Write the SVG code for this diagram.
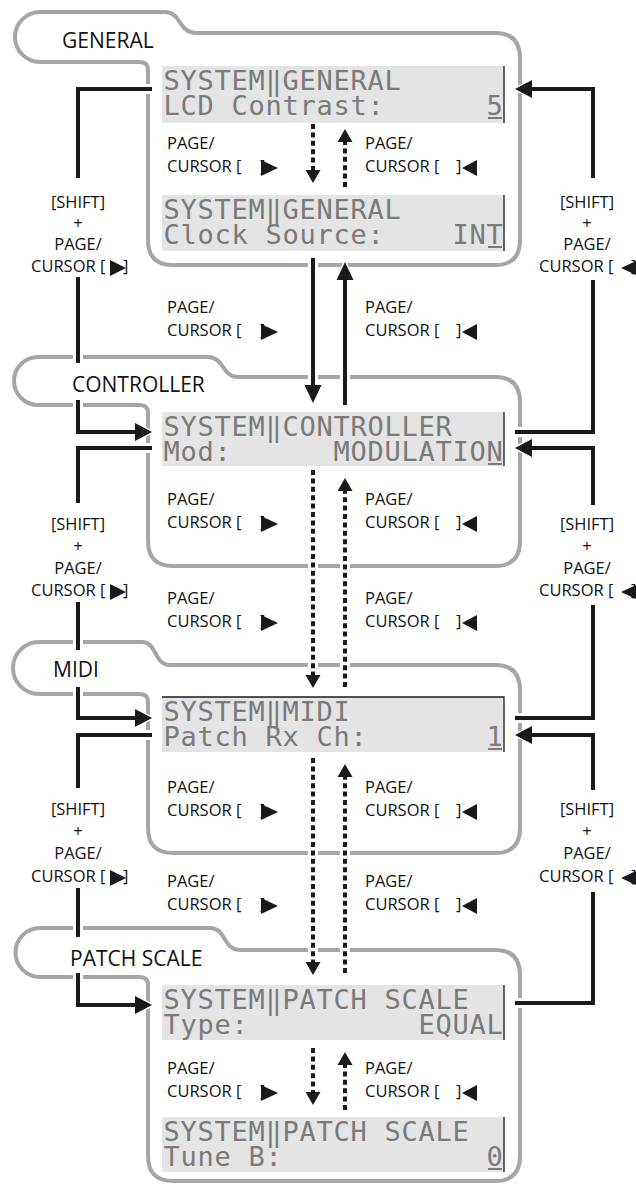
<svg xmlns="http://www.w3.org/2000/svg" xmlns:xlink="http://www.w3.org/1999/xlink" width="636" height="1186" viewBox="0 0 636 1186">
<style>
.pn{fill:none;stroke:#a6a6a6;stroke-width:4}
.lcd{fill:#e4e4e4}
.bd{stroke:#1a1a1a;stroke-width:1.3;fill:none}
.lt{font-family:"DejaVu Sans Mono",monospace;font-size:27px;letter-spacing:0.75px;fill:#7a7a7a;white-space:pre}
.cur{fill:#7a7a7a}
.tab{font-family:"Open Sans",sans-serif;font-size:21px;fill:#111}
.lb{font-family:"Open Sans",sans-serif;font-size:16.5px;fill:#111}
.halo{fill:none;stroke:#fff;stroke-width:10}
.ln{fill:none;stroke:#1a1a1a;stroke-width:4}
.dt{stroke-dasharray:5 3.4}
.ah{fill:#1a1a1a;stroke:#fff;stroke-width:3;paint-order:stroke}
.tri{fill:#1a1a1a}
</style>
<defs>
<path id="L1a" d="M152,89 H78 V178"/>
<path id="L1b" d="M78,277 V363"/>
<path id="L1c" d="M78,400 V432 H137"/>
<path id="L2a" d="M152,448 H78 V503"/>
<path id="L2b" d="M78,602 V650"/>
<path id="L2c" d="M78,687 V718 H137"/>
<path id="L3a" d="M152,735 H78 V788"/>
<path id="L3b" d="M78,888 V937"/>
<path id="L3c" d="M78,973 V1005 H137"/>
<path id="R1a" d="M530,89 H593 V178"/>
<path id="R1b" d="M593,280 V432 H515"/>
<path id="R2a" d="M530,448 H593 V505"/>
<path id="R2b" d="M593,605 V718 H515"/>
<path id="R3a" d="M530,735 H593 V790"/>
<path id="R3b" d="M593,892 V1003 H515"/>
<path id="S1" d="M313,258 V387"/>
<path id="S2" d="M345,405 V278"/>
<path id="D1" d="M313,124 V172"/>
<path id="D2" d="M345,187 V140"/>
<path id="D3" d="M313,470 V677"/>
<path id="D4" d="M345,687 V489"/>
<path id="D5" d="M313,758 V964"/>
<path id="D6" d="M345,973 V776"/>
<path id="D7" d="M313,1048 V1094"/>
<path id="D8" d="M345,1110 V1064"/>
</defs>

<g id="general">
<path class="pn" d="M40,12 L165,12 C181,12 179,33 196,33 L495,33 Q520,33 520,58 L520,240 Q520,265 495,265 L173,265 Q148,265 148,240 L148,70 Q148,62 140,62 L40,62 A25 25 0 0 1 40,12 Z"/>
<text class="tab" x="62" y="48">GENERAL</text>
<rect class="lcd" x="162" y="66" width="342" height="57"/>
<line class="bd" x1="504" y1="66" x2="504" y2="123"/>
<text class="lt" x="163.5" y="90" xml:space="preserve">SYSTEM‖GENERAL</text>
<text class="lt" x="163.5" y="115" xml:space="preserve">LCD Contrast:      5</text>
<rect class="cur" x="488" y="117" width="14" height="2"/>
<rect class="lcd" x="162" y="195" width="342" height="56"/>
<line class="bd" x1="504" y1="195" x2="504" y2="251"/>
<text class="lt" x="163.5" y="219" xml:space="preserve">SYSTEM‖GENERAL</text>
<text class="lt" x="163.5" y="244" xml:space="preserve">Clock Source:    INT</text>
<rect class="cur" x="488" y="246" width="14" height="2"/>
</g>

<g id="controller">
<path class="pn" d="M38,357 L208,357 C224,357 222,377 238,377 L495,377 Q520,377 520,402 L520,541 Q520,566 495,566 L173,566 Q148,566 148,541 L148,413 Q148,405 140,405 L38,405 A24 24 0 0 1 38,357 Z"/>
<text class="tab" x="72" y="392">CONTROLLER</text>
<rect class="lcd" x="162" y="412" width="342" height="54"/>
<line class="bd" x1="504" y1="412" x2="504" y2="466"/>
<text class="lt" x="163.5" y="436" xml:space="preserve">SYSTEM‖CONTROLLER</text>
<text class="lt" x="163.5" y="461" xml:space="preserve">Mod:      MODULATION</text>
<rect class="cur" x="488" y="463" width="14" height="2"/>
</g>

<g id="midi">
<path class="pn" d="M39,642 L142,642 C157,642 154,665 170,665 L495,665 Q520,665 520,690 L520,828 Q520,853 495,853 L173,853 Q148,853 148,828 L148,702 Q148,694 140,694 L39,694 A26 26 0 0 1 39,642 Z"/>
<text class="tab" x="53" y="677">MIDI</text>
<rect class="lcd" x="162" y="697" width="342" height="55"/>
<path class="bd" d="M162,697 H504 V752"/>
<text class="lt" x="163.5" y="721" xml:space="preserve">SYSTEM‖MIDI</text>
<text class="lt" x="163.5" y="746" xml:space="preserve">Patch Rx Ch:       1</text>
<rect class="cur" x="488" y="748" width="14" height="2"/>
</g>

<g id="patch-scale">
<path class="pn" d="M40,928 L210,928 C226,928 223,950 240,950 L495,950 Q520,950 520,975 L520,1156 Q520,1181 495,1181 L173,1181 Q148,1181 148,1156 L148,985 Q148,977 140,977 L40,977 A24.5 24.5 0 0 1 40,928 Z"/>
<text class="tab" x="70" y="966">PATCH SCALE</text>
<rect class="lcd" x="162" y="985" width="342" height="55"/>
<line class="bd" x1="504" y1="985" x2="504" y2="1040"/>
<text class="lt" x="163.5" y="1009" xml:space="preserve">SYSTEM‖PATCH SCALE</text>
<text class="lt" x="163.5" y="1034" xml:space="preserve">Type:          EQUAL</text>
<rect class="lcd" x="162" y="1117" width="342" height="55"/>
<line class="bd" x1="504" y1="1117" x2="504" y2="1172"/>
<text class="lt" x="163.5" y="1141" xml:space="preserve">SYSTEM‖PATCH SCALE</text>
<text class="lt" x="163.5" y="1166" xml:space="preserve">Tune B:            0</text>
<rect class="cur" x="488" y="1168" width="14" height="2"/>
</g>

<g id="connectors">
<g class="halo">
<use xlink:href="#L1a"/><use xlink:href="#L1b"/><use xlink:href="#L1c"/>
<use xlink:href="#L2a"/><use xlink:href="#L2b"/><use xlink:href="#L2c"/>
<use xlink:href="#L3a"/><use xlink:href="#L3b"/><use xlink:href="#L3c"/>
<use xlink:href="#R1a"/><use xlink:href="#R1b"/>
<use xlink:href="#R2a"/><use xlink:href="#R2b"/>
<use xlink:href="#R3a"/><use xlink:href="#R3b"/>
<use xlink:href="#S1"/><use xlink:href="#S2"/>
<use xlink:href="#D1"/><use xlink:href="#D2"/><use xlink:href="#D3"/><use xlink:href="#D4"/>
<use xlink:href="#D5"/><use xlink:href="#D6"/><use xlink:href="#D7"/><use xlink:href="#D8"/>
</g>
<g>
<polygon class="ah" points="135,423 152,432 135,441"/>
<polygon class="ah" points="135,709 152,718 135,727"/>
<polygon class="ah" points="135,996 152,1005 135,1014"/>
<polygon class="ah" points="532,80 515,89 532,98"/>
<polygon class="ah" points="532,439 515,448 532,457"/>
<polygon class="ah" points="532,726 515,735 532,744"/>
<polygon class="ah" points="304.5,385 313,403 321.5,385"/>
<polygon class="ah" points="336.5,280 345,262 353.5,280"/>
<polygon class="ah" points="305.5,170 313,183 320.5,170"/>
<polygon class="ah" points="337.5,142 345,129 352.5,142"/>
<polygon class="ah" points="305.5,675 313,688 320.5,675"/>
<polygon class="ah" points="337.5,491 345,478 352.5,491"/>
<polygon class="ah" points="305.5,962 313,975 320.5,962"/>
<polygon class="ah" points="337.5,777 345,764 352.5,777"/>
<polygon class="ah" points="305.5,1092 313,1105 320.5,1092"/>
<polygon class="ah" points="337.5,1065 345,1052 352.5,1065"/>
</g>
<g class="ln">
<use xlink:href="#L1a"/><use xlink:href="#L1b"/><use xlink:href="#L1c"/>
<use xlink:href="#L2a"/><use xlink:href="#L2b"/><use xlink:href="#L2c"/>
<use xlink:href="#L3a"/><use xlink:href="#L3b"/><use xlink:href="#L3c"/>
<use xlink:href="#R1a"/><use xlink:href="#R1b"/>
<use xlink:href="#R2a"/><use xlink:href="#R2b"/>
<use xlink:href="#R3a"/><use xlink:href="#R3b"/>
<use xlink:href="#S1"/><use xlink:href="#S2"/>
</g>
<g class="ln dt">
<use xlink:href="#D1"/><use xlink:href="#D2"/><use xlink:href="#D3"/><use xlink:href="#D4"/>
<use xlink:href="#D5"/><use xlink:href="#D6"/><use xlink:href="#D7"/><use xlink:href="#D8"/>
</g>
</g>

<g id="labels">
<g>
<text class="lb" x="167" y="149">PAGE/</text><text class="lb" x="167" y="172">CURSOR [</text><text class="lb" x="260" y="172">]</text><polygon class="tri" points="261,160 278,168 261,176"/>
<text class="lb" x="167" y="313">PAGE/</text><text class="lb" x="167" y="336">CURSOR [</text><text class="lb" x="260" y="336">]</text><polygon class="tri" points="261,324 278,332 261,340"/>
<text class="lb" x="167" y="505">PAGE/</text><text class="lb" x="167" y="528">CURSOR [</text><text class="lb" x="260" y="528">]</text><polygon class="tri" points="261,516 278,524 261,532"/>
<text class="lb" x="167" y="604">PAGE/</text><text class="lb" x="167" y="627">CURSOR [</text><text class="lb" x="260" y="627">]</text><polygon class="tri" points="261,615 278,623 261,631"/>
<text class="lb" x="167" y="793">PAGE/</text><text class="lb" x="167" y="816">CURSOR [</text><text class="lb" x="260" y="816">]</text><polygon class="tri" points="261,804 278,812 261,820"/>
<text class="lb" x="167" y="887">PAGE/</text><text class="lb" x="167" y="910">CURSOR [</text><text class="lb" x="260" y="910">]</text><polygon class="tri" points="261,898 278,906 261,914"/>
<text class="lb" x="167" y="1074">PAGE/</text><text class="lb" x="167" y="1097">CURSOR [</text><text class="lb" x="260" y="1097">]</text><polygon class="tri" points="261,1085 278,1093 261,1101"/>
</g>
<g>
<text class="lb" x="365" y="149">PAGE/</text><text class="lb" x="365" y="172">CURSOR [</text><text class="lb" x="456" y="172">]</text><polygon class="tri" points="477,160 462,168 477,176"/>
<text class="lb" x="365" y="313">PAGE/</text><text class="lb" x="365" y="336">CURSOR [</text><text class="lb" x="456" y="336">]</text><polygon class="tri" points="477,324 462,332 477,340"/>
<text class="lb" x="365" y="505">PAGE/</text><text class="lb" x="365" y="528">CURSOR [</text><text class="lb" x="456" y="528">]</text><polygon class="tri" points="477,516 462,524 477,532"/>
<text class="lb" x="365" y="604">PAGE/</text><text class="lb" x="365" y="627">CURSOR [</text><text class="lb" x="456" y="627">]</text><polygon class="tri" points="477,615 462,623 477,631"/>
<text class="lb" x="365" y="793">PAGE/</text><text class="lb" x="365" y="816">CURSOR [</text><text class="lb" x="456" y="816">]</text><polygon class="tri" points="477,804 462,812 477,820"/>
<text class="lb" x="365" y="887">PAGE/</text><text class="lb" x="365" y="910">CURSOR [</text><text class="lb" x="456" y="910">]</text><polygon class="tri" points="477,898 462,906 477,914"/>
<text class="lb" x="365" y="1074">PAGE/</text><text class="lb" x="365" y="1097">CURSOR [</text><text class="lb" x="456" y="1097">]</text><polygon class="tri" points="477,1085 462,1093 477,1101"/>
</g>
<g text-anchor="middle">
<text class="lb" x="78" y="208">[SHIFT]</text><text class="lb" x="78" y="229">+</text><text class="lb" x="78" y="250">PAGE/</text>
<text class="lb" x="78" y="530">[SHIFT]</text><text class="lb" x="78" y="552">+</text><text class="lb" x="78" y="574">PAGE/</text>
<text class="lb" x="78" y="815">[SHIFT]</text><text class="lb" x="78" y="837">+</text><text class="lb" x="78" y="859">PAGE/</text>
<text class="lb" x="587" y="208">[SHIFT]</text><text class="lb" x="587" y="229">+</text><text class="lb" x="587" y="250">PAGE/</text>
<text class="lb" x="587" y="530">[SHIFT]</text><text class="lb" x="587" y="552">+</text><text class="lb" x="587" y="574">PAGE/</text>
<text class="lb" x="587" y="815">[SHIFT]</text><text class="lb" x="587" y="837">+</text><text class="lb" x="587" y="859">PAGE/</text>
</g>
<g>
<text class="lb" x="31" y="272">CURSOR [</text><polygon class="tri" points="110,260 126,268 110,276"/><text class="lb" x="123" y="272">]</text>
<text class="lb" x="31" y="596">CURSOR [</text><polygon class="tri" points="110,584 126,592 110,600"/><text class="lb" x="123" y="596">]</text>
<text class="lb" x="31" y="882">CURSOR [</text><polygon class="tri" points="110,870 126,878 110,886"/><text class="lb" x="123" y="882">]</text>
<text class="lb" x="539" y="272">CURSOR [</text><text class="lb" x="631" y="272">]</text><polygon class="tri" points="638,260 621,268 638,276"/>
<text class="lb" x="539" y="596">CURSOR [</text><text class="lb" x="631" y="596">]</text><polygon class="tri" points="638,584 621,592 638,600"/>
<text class="lb" x="539" y="882">CURSOR [</text><text class="lb" x="631" y="882">]</text><polygon class="tri" points="638,870 621,878 638,886"/>
</g>
</g>
</svg>
